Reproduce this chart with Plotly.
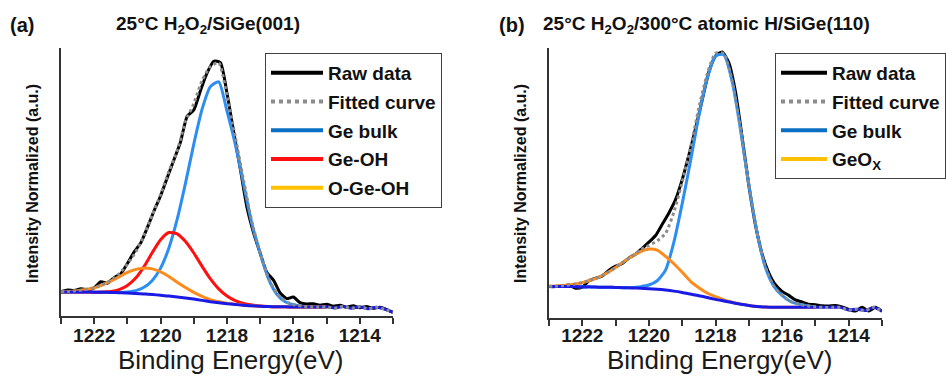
import plotly.graph_objects as go

# ---------------- data ----------------
energy_grid = [1223.0, 1222.75, 1222.5, 1222.25, 1222.0, 1221.75, 1221.5, 1221.25, 1221.0,
               1220.75, 1220.5, 1220.25, 1220.0, 1219.75, 1219.5, 1219.25, 1219.0,
               1218.75, 1218.5, 1218.25, 1218.0, 1217.75, 1217.5, 1217.25, 1217.0,
               1216.75, 1216.5, 1216.25, 1216.0, 1215.75, 1215.5, 1215.25, 1215.0,
               1214.75, 1214.5, 1214.25, 1214.0, 1213.75, 1213.5, 1213.25, 1213.0]
energy_comp = energy_grid[:33]   # components stop where they merge with the background
energy_raw = [1223.0, 1222.8, 1222.6, 1222.4, 1222.2, 1222.0, 1221.8, 1221.6, 1221.4, 1221.2,
              1221.0, 1220.8, 1220.6, 1220.4, 1220.2, 1220.0, 1219.8, 1219.6, 1219.4, 1219.2,
              1219.0, 1218.8, 1218.6, 1218.4, 1218.2, 1218.0, 1217.8, 1217.6, 1217.4, 1217.2,
              1217.0, 1216.8, 1216.6, 1216.4, 1216.2, 1216.0, 1215.8, 1215.6, 1215.4, 1215.2,
              1215.0, 1214.8, 1214.6, 1214.4, 1214.2, 1214.0, 1213.8, 1213.6, 1213.4, 1213.2,
              1213.0]

# panel (a) 25°C H2O2/SiGe(001)
a_raw = [0.095, 0.102, 0.100, 0.106, 0.103, 0.110, 0.134, 0.128, 0.150, 0.165,
         0.205, 0.250, 0.285, 0.345, 0.410, 0.470, 0.540, 0.610, 0.680, 0.780,
         0.805, 0.880, 0.950, 0.995, 0.990, 0.870, 0.720, 0.575, 0.425, 0.325,
         0.245, 0.170, 0.140, 0.090, 0.068, 0.074, 0.052, 0.047, 0.048, 0.042,
         0.046, 0.038, 0.042, 0.034, 0.040, 0.032, 0.037, 0.030, 0.034, 0.026,
         0.014]
a_fit = [0.095, 0.096, 0.099, 0.104, 0.110, 0.123, 0.140, 0.165, 0.203,
         0.250, 0.315, 0.395, 0.475, 0.565, 0.645, 0.760, 0.830,
         0.920, 0.975, 0.990, 0.860, 0.700, 0.530, 0.368, 0.246,
         0.148, 0.088, 0.058, 0.045, 0.038, 0.036, 0.035, 0.036,
         0.031, 0.037, 0.030, 0.036, 0.028, 0.034, 0.027, 0.014]
a_bulk = [0.094, 0.094, 0.094, 0.094, 0.093, 0.093, 0.092, 0.092, 0.094,
          0.099, 0.112, 0.139, 0.187, 0.266, 0.378, 0.519, 0.672,
          0.808, 0.896, 0.915, 0.800, 0.670, 0.515, 0.360, 0.245,
          0.145, 0.085, 0.056, 0.044, 0.038, 0.036, 0.035, 0.035]
a_geoh = [0.094, 0.094, 0.094, 0.094, 0.093, 0.094, 0.096, 0.103, 0.119,
          0.148, 0.193, 0.248, 0.298, 0.326, 0.321, 0.291, 0.246,
          0.194, 0.145, 0.106, 0.078, 0.060, 0.049, 0.043, 0.039,
          0.037, 0.036, 0.036, 0.035, 0.035, 0.035, 0.035, 0.035]
a_ogeoh = [0.095, 0.096, 0.099, 0.104, 0.110, 0.122, 0.136, 0.153, 0.170,
           0.182, 0.187, 0.184, 0.172, 0.154, 0.132, 0.111, 0.092,
           0.077, 0.064, 0.056, 0.050, 0.046, 0.042, 0.040, 0.038,
           0.037, 0.036, 0.036, 0.035, 0.035, 0.035, 0.035, 0.035]
a_bg = [0.094, 0.094, 0.094, 0.094, 0.093, 0.093, 0.092, 0.091, 0.090,
        0.088, 0.086, 0.084, 0.081, 0.078, 0.074, 0.070, 0.066,
        0.061, 0.056, 0.052, 0.048, 0.045, 0.042, 0.040, 0.038,
        0.037, 0.036, 0.036, 0.035, 0.035, 0.035, 0.035, 0.036,
        0.031, 0.037, 0.030, 0.036, 0.028, 0.034, 0.027, 0.014]

# panel (b) 25°C H2O2/300°C atomic H/SiGe(110)
b_raw = [0.118, 0.118, 0.120, 0.124, 0.112, 0.116, 0.140, 0.150, 0.158, 0.180,
         0.195, 0.205, 0.226, 0.240, 0.262, 0.285, 0.310, 0.352, 0.395, 0.445,
         0.520, 0.612, 0.712, 0.820, 0.925, 0.985, 1.000, 0.960, 0.850, 0.680,
         0.500, 0.350, 0.240, 0.170, 0.125, 0.100, 0.085, 0.068, 0.060, 0.052,
         0.050, 0.046, 0.045, 0.047, 0.042, 0.032, 0.026, 0.040, 0.026, 0.040,
         0.025]
b_fit = [0.119, 0.120, 0.123, 0.127, 0.133, 0.142, 0.154, 0.170, 0.190,
         0.212, 0.234, 0.256, 0.273, 0.290, 0.318, 0.398, 0.512,
         0.640, 0.790, 0.917, 0.995, 0.994, 0.891, 0.711, 0.500,
         0.320, 0.190, 0.120, 0.085, 0.062, 0.052, 0.046, 0.042,
         0.040, 0.040, 0.040, 0.030, 0.033, 0.028, 0.040, 0.026]
b_bulk = [0.118, 0.118, 0.118, 0.118, 0.117, 0.117, 0.116, 0.116, 0.115,
          0.114, 0.115, 0.118, 0.124, 0.140, 0.180, 0.285, 0.430,
          0.590, 0.760, 0.900, 0.985, 0.990, 0.890, 0.710, 0.500,
          0.320, 0.190, 0.120, 0.085, 0.062, 0.052, 0.046, 0.042]
b_geox = [0.119, 0.120, 0.123, 0.127, 0.133, 0.142, 0.154, 0.170, 0.190,
          0.212, 0.232, 0.250, 0.259, 0.255, 0.232, 0.204, 0.172,
          0.138, 0.114, 0.094, 0.080, 0.068, 0.059, 0.053, 0.047,
          0.043, 0.041, 0.040, 0.040, 0.040, 0.040, 0.040, 0.040]
b_bg = [0.118, 0.118, 0.118, 0.118, 0.117, 0.117, 0.116, 0.116, 0.115,
        0.114, 0.113, 0.112, 0.110, 0.108, 0.105, 0.101, 0.096,
        0.090, 0.084, 0.077, 0.070, 0.064, 0.058, 0.052, 0.047,
        0.043, 0.041, 0.040, 0.040, 0.040, 0.040, 0.040, 0.040,
        0.040, 0.040, 0.040, 0.030, 0.033, 0.028, 0.040, 0.026]

x_major_tick0 = 1214
x_minor_tick0 = 1213

# ---------------- styling ----------------
FONT = "Liberation Sans, Arial, sans-serif"
W, H = 946, 376
C_RAW = "#000000"
C_FIT = "#8c8c8c"
C_BULK = "#2b8ef0"
C_BULK_LEG = "#0a6fc2"
C_GEOH = "#ff1010"
C_OX = "#ff8a1c"
C_OX_LEG = "#ffc000"
C_BG = "#1a1ae6"
LW = 3

fig = go.Figure()


def add_curve(x, y, color, xa, ya, dash=None, width=LW):
    fig.add_trace(go.Scatter(x=x, y=y, mode="lines", showlegend=False, hoverinfo="skip",
                             line=dict(color=color, width=width, dash=dash, shape="spline", smoothing=0.6),
                             xaxis=xa, yaxis=ya))


def add_legend_entry(name, color, legend, group, dash=None):
    fig.add_trace(go.Scatter(x=[None], y=[None], mode="lines", name=name, legend=legend,
                             legendgroup=group, line=dict(color=color, width=4, dash=dash),
                             xaxis="x", yaxis="y"))


# panel (a)
add_curve(energy_raw, a_raw, C_RAW, "x", "y")
add_curve(energy_comp, a_bulk, C_BULK, "x", "y")
add_curve(energy_comp, a_geoh, C_GEOH, "x", "y")
add_curve(energy_comp, a_ogeoh, C_OX, "x", "y")
add_curve(energy_grid, a_bg, C_BG, "x", "y")
add_curve(energy_grid, a_fit, C_FIT, "x", "y", dash="dot")

# panel (b)
add_curve(energy_raw, b_raw, C_RAW, "x2", "y2")
add_curve(energy_comp, b_bulk, C_BULK, "x2", "y2")
add_curve(energy_comp, b_geox, C_OX, "x2", "y2")
add_curve(energy_grid, b_bg, C_BG, "x2", "y2")
add_curve(energy_grid, b_fit, C_FIT, "x2", "y2", dash="dot")

# legends
add_legend_entry("Raw data", C_RAW, "legend", "a1")
add_legend_entry("Fitted curve", C_FIT, "legend", "a2", dash="dot")
add_legend_entry("Ge bulk", C_BULK_LEG, "legend", "a3")
add_legend_entry("Ge-OH", C_GEOH, "legend", "a4")
add_legend_entry("O-Ge-OH", C_OX_LEG, "legend", "a5")
add_legend_entry("Raw data", C_RAW, "legend2", "b1")
add_legend_entry("Fitted curve", C_FIT, "legend2", "b2", dash="dot")
add_legend_entry("Ge bulk", C_BULK_LEG, "legend2", "b3")
add_legend_entry("GeO<sub>X</sub>", C_OX_LEG, "legend2", "b4")

tickfont = dict(family=FONT, size=19, color="#1a1a1a", weight="bold")


def xaxis_style(domain, anchor, standoff):
    return dict(domain=domain, anchor=anchor, range=[1223, 1213], autorange=False,
                showline=True, linecolor="#333333", linewidth=2, showgrid=False, zeroline=False,
                tickmode="linear", tick0=x_major_tick0, dtick=2, ticks="outside", ticklen=6,
                tickwidth=2, tickcolor="#333333", tickfont=tickfont, ticklabelstandoff=standoff,
                minor=dict(tickmode="linear", tick0=x_minor_tick0, dtick=1, ticks="outside",
                           ticklen=6, tickwidth=2, tickcolor="#333333", showgrid=False))


def yaxis_style(domain, anchor, top):
    return dict(domain=domain, anchor=anchor, range=[0, top], autorange=False,
                showline=True, linecolor="#333333", linewidth=2, showgrid=False,
                zeroline=False, ticks="", showticklabels=False)


legend_common = dict(xanchor="left", yanchor="top", bgcolor="white", bordercolor="#404040",
                     borderwidth=1, tracegroupgap=1,
                     font=dict(family=FONT, size=19, color="#111111", weight="bold"))

fig.update_layout(
    width=W, height=H, margin=dict(l=0, r=0, t=0, b=0, autoexpand=False),
    paper_bgcolor="white", plot_bgcolor="white",
    xaxis=xaxis_style([61 / W, 393 / W], "y", -5),
    yaxis=yaxis_style([60 / H, 328 / H], "x", 1.047),
    xaxis2=xaxis_style([549 / W, 882 / W], "y2", -7),
    yaxis2=yaxis_style([58 / H, 328 / H], "x2", 1.015),
    legend=dict(x=265 / W, y=1 - 53 / H, itemwidth=52, **legend_common),
    legend2=dict(x=775 / W, y=1 - 53 / H, itemwidth=46, **legend_common),
)

title_font = dict(family=FONT, size=19, color="#111111", weight="bold")
ytitle_font = dict(family=FONT, size=16, color="#111111", weight="bold")
xtitle_font = dict(family=FONT, size=26, color="#1a1a1a")
annos = [
    dict(text="(a)", x=8 / W, y=1 - 25 / H, xanchor="left", font=dict(family=FONT, size=20, color="#111111", weight="bold")),
    dict(text="25°C H<sub>2</sub>O<sub>2</sub>/SiGe(001)", x=114 / W, y=1 - 25 / H, xanchor="left", font=title_font),
    dict(text="(b)", x=497 / W, y=1 - 25 / H, xanchor="left", font=dict(family=FONT, size=20, color="#111111", weight="bold")),
    dict(text="25°C H<sub>2</sub>O<sub>2</sub>/300°C atomic H/SiGe(110)", x=541 / W, y=1 - 25 / H, xanchor="left", font=title_font),
    dict(text="Intensity Normalized (a.u.)", x=33 / W, y=1 - 184 / H, xanchor="center", textangle=-90, font=ytitle_font),
    dict(text="Intensity Normalized (a.u.)", x=521 / W, y=1 - 184 / H, xanchor="center", textangle=-90, font=ytitle_font),
    dict(text="Binding Energy(eV)", x=230 / W, y=1 - 360 / H, xanchor="center", font=xtitle_font),
    dict(text="Binding Energy(eV)", x=719 / W, y=1 - 360 / H, xanchor="center", font=xtitle_font),
]
for a in annos:
    a.update(xref="paper", yref="paper", yanchor="middle", showarrow=False)
    fig.add_annotation(**a)

fig.write_html("out.html")
